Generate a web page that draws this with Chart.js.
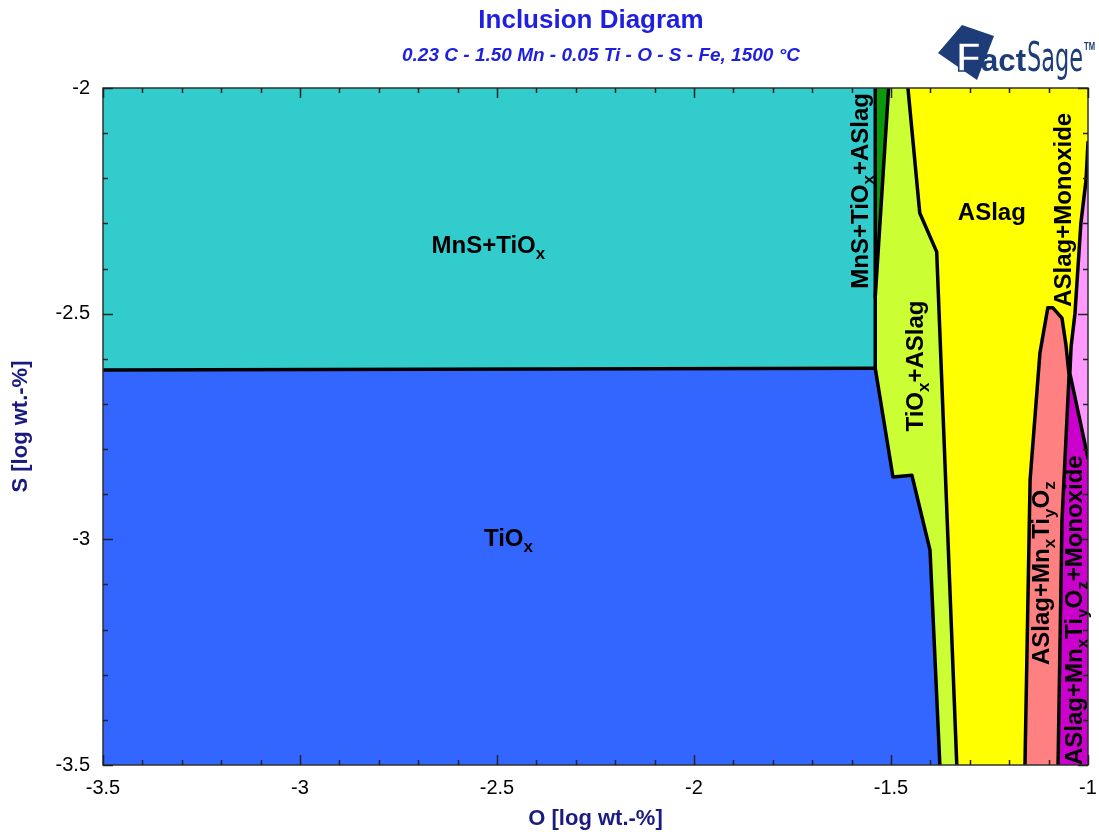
<!DOCTYPE html>
<html>
<head>
<meta charset="utf-8">
<script src="https://cdn.jsdelivr.net/npm/chart.js@4.4.0/dist/chart.umd.min.js"></script>
<style>
html,body{margin:0;padding:0;background:#fff;}
#wrap{position:relative;width:1099px;height:832px;overflow:hidden;}
canvas{display:block;}
#logo{position:absolute;left:930px;top:20px;}
</style>
</head>
<body>
<div id="wrap">
<canvas id="c" width="1099" height="832"></canvas>
<svg id="logo" width="169" height="65" viewBox="0 0 169 65">
  <polygon points="32,5 64,16 47,60 8,33" fill="#1d3c78"/>
  <text x="26" y="51" font-family="'Liberation Sans', Arial, sans-serif" font-weight="bold" font-size="40" fill="#ffffff" stroke="#1d3c78" stroke-width="1.5" textLength="25" lengthAdjust="spacingAndGlyphs">F</text>
  <text x="51" y="51" font-family="'Liberation Sans', Arial, sans-serif" font-weight="bold" font-size="31" fill="#1d3c78" textLength="45" lengthAdjust="spacingAndGlyphs">act</text>
  <text x="97" y="51" font-family="'Liberation Sans Narrow', 'DejaVu Sans Condensed', Arial, sans-serif" font-size="40" fill="#1d3c78" textLength="56" lengthAdjust="spacingAndGlyphs">Sage</text>
  <text x="154" y="30" font-family="'Liberation Sans Narrow', Arial, sans-serif" font-weight="bold" font-size="11" fill="#1d3c78" textLength="11" lengthAdjust="spacingAndGlyphs">TM</text>
</svg>
</div>
<script>
// ---------------- data (O = x, S = y, log wt.-%) ----------------
const titleText = 'Inclusion Diagram';
const subtitleText = '0.23 C - 1.50 Mn - 0.05 Ti - O - S - Fe, 1500 °C';
const xAxisTitle = 'O [log wt.-%]';
const yAxisTitle = 'S [log wt.-%]';

const xTickValues = [-3.5, -3, -2.5, -2, -1.5, -1];
const xTickLabels = ['-3.5', '-3', '-2.5', '-2', '-1.5', '-1'];
const yTickValues = [-3.5, -3, -2.5, -2];
const yTickLabels = ['-3.5', '-3', '-2.5', '-2'];

// phase regions (polygons)
const regionMnSTiOx = [[-3.5,-2],[-1.540,-2],[-1.540,-2.621],[-3.5,-2.625]];
const regionTiOx = [[-3.5,-2.625],[-1.540,-2.621],[-1.495,-2.862],[-1.447,-2.858],[-1.401,-3.024],[-1.376,-3.5],[-3.5,-3.5]];
const regionMnSTiOxASlag = [[-1.540,-2],[-1.506,-2],[-1.540,-2.463]];
const regionTiOxASlag = [[-1.506,-2],[-1.457,-2],[-1.427,-2.277],[-1.384,-2.363],[-1.333,-3.5],[-1.376,-3.5],[-1.401,-3.024],[-1.447,-2.858],[-1.495,-2.862],[-1.540,-2.621],[-1.540,-2.463]];
const regionASlag = [[-1.457,-2],[-1.0,-2],[-1.0,-3.5],[-1.333,-3.5],[-1.384,-2.363],[-1.427,-2.277]];
const regionASlagMonoxide = [[-1.0,-2.12],[-1.005,-2.204],[-1.018,-2.299],[-1.033,-2.499],[-1.043,-2.574],[-1.046,-2.632],[-1.0,-2.820]];
const regionASlagMnTiO = [[-1.160,-3.5],[-1.147,-2.869],[-1.122,-2.587],[-1.102,-2.487],[-1.089,-2.487],[-1.066,-2.510],[-1.056,-2.569],[-1.048,-2.636],[-1.066,-2.957],[-1.076,-3.5]];
const regionASlagMnTiOMonoxide = [[-1.046,-2.632],[-1.0,-2.820],[-1.0,-3.5],[-1.076,-3.5],[-1.066,-2.957],[-1.048,-2.636]];

// phase boundaries (polylines)
const boundaryMnSTiOx = [[-3.5,-2.625],[-1.540,-2.621]];
const boundaryTiOxRight = [[-1.540,-2],[-1.540,-2.621],[-1.495,-2.862],[-1.447,-2.858],[-1.401,-3.024],[-1.376,-3.5]];
const boundaryMnSTiOxASlag = [[-1.506,-2],[-1.540,-2.463]];
const boundaryASlagLeft = [[-1.457,-2],[-1.427,-2.277],[-1.384,-2.363],[-1.333,-3.5]];
const boundaryMonoxide = [[-1.0,-2.12],[-1.005,-2.204],[-1.018,-2.299],[-1.033,-2.499],[-1.043,-2.574],[-1.046,-2.632],[-1.0,-2.820]];
const boundaryMnTiO = [[-1.160,-3.5],[-1.147,-2.869],[-1.122,-2.587],[-1.102,-2.487],[-1.089,-2.487],[-1.066,-2.510],[-1.056,-2.569],[-1.048,-2.636],[-1.066,-2.957],[-1.076,-3.5]];

// region labels: text ( _c = subscript c ), anchor O, anchor S, vertical
const labelTexts = ['MnS+TiO_x','TiO_x','ASlag','MnS+TiO_x+ASlag','TiO_x+ASlag','ASlag+Monoxide','ASlag+Mn_xTi_yO_z','ASlag+Mn_xTi_yO_z+Monoxide'];
const labelO = [-2.522,-2.471,-1.244,-1.580,-1.441,-1.065,-1.120,-1.037];
const labelS = [-2.346,-2.996,-2.273,-2.228,-2.616,-2.270,-3.075,-3.157];
const labelVertical = [false,false,false,true,true,true,true,true];

// ---------------- chart ----------------
const FONT = "'Liberation Sans', Arial, sans-serif";
const toPts = arr => arr.map(([x, y]) => ({x, y}));

function regionDS(arr, color, order) {
  return {data: toPts(arr), fill: 'shape', backgroundColor: color, borderColor: color,
          borderWidth: 1, pointRadius: 0, tension: 0, order: order};
}
function lineDS(arr) {
  return {data: toPts(arr), fill: false, borderColor: '#000', borderWidth: 3.5,
          pointRadius: 0, tension: 0, order: 0, borderJoinStyle: 'round', borderCapStyle: 'round'};
}

const datasets = [
  lineDS(boundaryMnSTiOx), lineDS(boundaryTiOxRight), lineDS(boundaryMnSTiOxASlag),
  lineDS(boundaryASlagLeft), lineDS(boundaryMonoxide), lineDS(boundaryMnTiO),
  regionDS(regionASlagMonoxide, '#FF99FF', 1),
  regionDS(regionASlagMnTiO, '#FF8080', 1),
  regionDS(regionASlagMnTiOMonoxide, '#CC00CC', 1),
  regionDS(regionMnSTiOx, '#33CCCC', 2),
  regionDS(regionTiOx, '#3366FF', 2),
  regionDS(regionMnSTiOxASlag, '#0A990A', 2),
  regionDS(regionTiOxASlag, '#CCFF33', 2),
  regionDS(regionASlag, '#FFFF00', 2)
];

function drawRich(ctx, text, x, y, size, vertical) {
  const segs = [];
  let buf = '';
  for (let i = 0; i < text.length; i++) {
    if (text[i] === '_') {
      if (buf) segs.push({t: buf, sub: false});
      buf = '';
      segs.push({t: text[i + 1], sub: true});
      i++;
    } else buf += text[i];
  }
  if (buf) segs.push({t: buf, sub: false});
  const mainF = `bold ${size}px ${FONT}`;
  const subF = `bold ${Math.round(size * 0.72)}px ${FONT}`;
  let w = 0;
  segs.forEach(s => { ctx.font = s.sub ? subF : mainF; s.w = ctx.measureText(s.t).width; w += s.w; });
  ctx.save();
  ctx.translate(x, y);
  if (vertical) ctx.rotate(-Math.PI / 2);
  ctx.textAlign = 'left';
  ctx.textBaseline = 'alphabetic';
  ctx.fillStyle = '#000';
  let cx = -w / 2;
  const base = size * 0.358;
  segs.forEach(s => {
    ctx.font = s.sub ? subF : mainF;
    ctx.fillText(s.t, cx, base + (s.sub ? size * 0.25 : 0));
    cx += s.w;
  });
  ctx.restore();
}

const decor = {
  id: 'decor',
  afterDatasetsDraw(chart) {
    const {ctx, chartArea: a, scales: {x, y}} = chart;
    labelTexts.forEach((t, i) => {
      drawRich(ctx, t, x.getPixelForValue(labelO[i]), y.getPixelForValue(labelS[i]), 24, labelVertical[i]);
    });
    ctx.save();
    ctx.strokeStyle = '#303030';
    ctx.lineWidth = 1.5;
    ctx.strokeRect(a.left, a.top, a.right - a.left, a.bottom - a.top);
    ctx.lineWidth = 1.5;
    ctx.strokeStyle = '#202020';
    ctx.beginPath();
    for (let k = 0; k <= 25; k++) {
      const v = -3.5 + k * 0.1;
      const len = (k % 5 === 0) ? 10 : 5;
      const px = Math.round(x.getPixelForValue(v)) + 0.5;
      ctx.moveTo(px, a.bottom); ctx.lineTo(px, a.bottom - len);
      ctx.moveTo(px, a.top); ctx.lineTo(px, a.top + len);
    }
    for (let k = 0; k <= 15; k++) {
      const v = -3.5 + k * 0.1;
      const len = (k % 5 === 0) ? 10 : 5;
      const py = Math.round(y.getPixelForValue(v)) + 0.5;
      ctx.moveTo(a.left, py); ctx.lineTo(a.left + len, py);
      ctx.moveTo(a.right, py); ctx.lineTo(a.right - len, py);
    }
    ctx.stroke();
    ctx.restore();
  },
  afterDraw(chart) {
    const ctx = chart.ctx;
    ctx.save();
    ctx.fillStyle = '#1f1fe0';
    ctx.textAlign = 'center';
    ctx.textBaseline = 'middle';
    ctx.font = `bold 26px ${FONT}`;
    ctx.fillText(titleText, 591, 21);
    ctx.font = `italic bold 19px ${FONT}`;
    ctx.fillText(subtitleText, 601, 56);
    ctx.restore();
  }
};

new Chart(document.getElementById('c'), {
  type: 'line',
  data: {datasets},
  options: {
    responsive: false,
    animation: false,
    devicePixelRatio: 1,
    events: [],
    layout: {padding: {top: 88, right: 11, left: 0, bottom: 0}},
    plugins: {legend: {display: false}, tooltip: {enabled: false}, title: {display: false}},
    scales: {
      x: {
        type: 'linear', min: -3.5, max: -1,
        afterBuildTicks: s => { s.ticks = xTickValues.map(v => ({value: v})); },
        afterFit: s => { s.height = 67; s.paddingLeft = 0; s.paddingRight = 0; },
        grid: {display: false, drawTicks: false},
        border: {display: false},
        ticks: {callback: (v, i) => xTickLabels[i], color: '#000', padding: 11, maxRotation: 0,
                font: {family: FONT, size: 20}},
        title: {display: true, text: xAxisTitle, color: '#1a1a80', font: {family: FONT, size: 22, weight: 'bold'},
                padding: {top: 0, bottom: 0}}
      },
      y: {
        type: 'linear', min: -3.5, max: -2,
        afterBuildTicks: s => { s.ticks = yTickValues.map(v => ({value: v})); },
        afterFit: s => { s.width = 103; s.paddingTop = 0; s.paddingBottom = 0; },
        grid: {display: false, drawTicks: false},
        border: {display: false},
        ticks: {callback: (v, i) => yTickLabels[i], color: '#000', padding: 13,
                font: {family: FONT, size: 20}},
        title: {display: true, text: yAxisTitle, color: '#1a1a80', font: {family: FONT, size: 22, weight: 'bold'},
                padding: {top: 8, bottom: 0}}
      }
    }
  },
  plugins: [decor]
});
</script>
</body>
</html>
